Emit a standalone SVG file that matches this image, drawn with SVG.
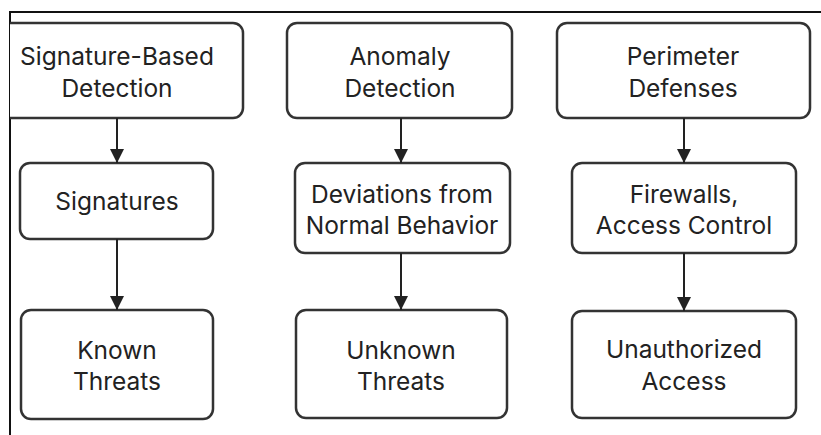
<svg xmlns="http://www.w3.org/2000/svg" width="821" height="435" viewBox="0 0 821 435">
  <style>
    .box { fill: #ffffff; stroke: #333333; stroke-width: 2.5; }
    .lbl { font-family: Inter, "Liberation Sans", Arial, sans-serif; font-size: 24.5px; fill: #222222; text-anchor: middle; }
    .edge { stroke: #222222; stroke-width: 2; fill: none; marker-end: url(#arrow); }
    .frame { stroke: #111111; stroke-width: 2; fill: none; }
  </style>
  <defs>
    <marker id="arrow" markerUnits="userSpaceOnUse" markerWidth="14" markerHeight="14" viewBox="0 0 14 14" refX="14" refY="7" orient="auto">
      <path d="M0,0 L14,7 L0,14 Z" fill="#222222"/>
    </marker>
  </defs>
  <rect width="821" height="435" fill="#ffffff"/>

  <!-- outer frame: top and left rules -->
  <path class="frame" d="M9,12 H821 M10,12 V435"/>

  <!-- column 1 -->
  <g id="signature-based-detection">
    <path class="box" d="M10,23 H233 A10,10 0 0 1 243,33 V108 A10,10 0 0 1 233,118 H10"/>
    <text class="lbl" x="117" y="65">Signature-Based</text>
    <text class="lbl" x="117" y="97">Detection</text>
  </g>
  <g id="signatures">
    <rect class="box" x="20" y="163" width="193" height="76" rx="10"/>
    <text class="lbl" x="117" y="210">Signatures</text>
  </g>
  <g id="known-threats">
    <rect class="box" x="21" y="310" width="192" height="109" rx="10"/>
    <text class="lbl" x="117" y="359">Known</text>
    <text class="lbl" x="117" y="390">Threats</text>
  </g>

  <!-- column 2 -->
  <g id="anomaly-detection">
    <rect class="box" x="287" y="23" width="225" height="95" rx="10"/>
    <text class="lbl" x="400" y="65">Anomaly</text>
    <text class="lbl" x="400" y="97">Detection</text>
  </g>
  <g id="deviations">
    <rect class="box" x="295" y="163" width="215" height="90" rx="10"/>
    <text class="lbl" x="402" y="203">Deviations from</text>
    <text class="lbl" x="402" y="234">Normal Behavior</text>
  </g>
  <g id="unknown-threats">
    <rect class="box" x="296" y="310" width="211" height="108" rx="10"/>
    <text class="lbl" x="401" y="359">Unknown</text>
    <text class="lbl" x="401" y="390">Threats</text>
  </g>

  <!-- column 3 -->
  <g id="perimeter-defenses">
    <rect class="box" x="557" y="23" width="253" height="95" rx="10"/>
    <text class="lbl" x="683" y="65">Perimeter</text>
    <text class="lbl" x="683" y="97">Defenses</text>
  </g>
  <g id="firewalls">
    <rect class="box" x="572" y="163" width="224" height="90" rx="10"/>
    <text class="lbl" x="684" y="203">Firewalls,</text>
    <text class="lbl" x="684" y="234">Access Control</text>
  </g>
  <g id="unauthorized-access">
    <rect class="box" x="572" y="311" width="224" height="107" rx="10"/>
    <text class="lbl" x="684" y="358">Unauthorized</text>
    <text class="lbl" x="684" y="390">Access</text>
  </g>

  <!-- connectors -->
  <g id="connectors">
    <line class="edge" x1="117" y1="118" x2="117" y2="163"/>
    <line class="edge" x1="117" y1="239" x2="117" y2="310"/>
    <line class="edge" x1="401" y1="118" x2="401" y2="163"/>
    <line class="edge" x1="401" y1="253" x2="401" y2="310"/>
    <line class="edge" x1="684" y1="118" x2="684" y2="163"/>
    <line class="edge" x1="684" y1="253" x2="684" y2="311"/>
  </g>
</svg>
